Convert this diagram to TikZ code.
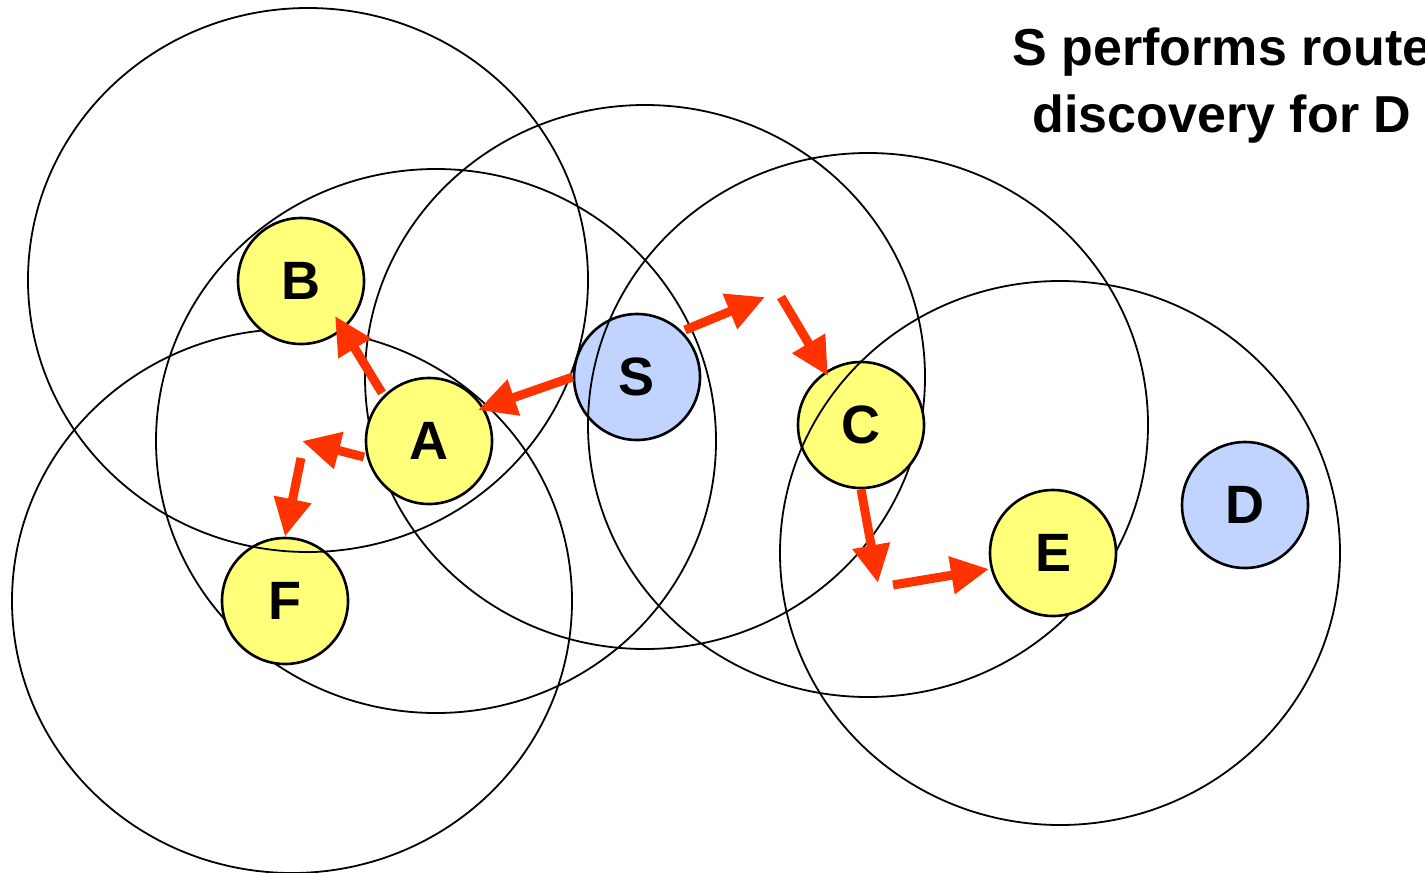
\documentclass[tikz,border=0pt]{standalone}
\usepackage{fontspec}
\setmainfont{Liberation Sans}
\usetikzlibrary{arrows.meta,calc}
\definecolor{nodeyellow}{RGB}{255,255,122}
\definecolor{nodeblue}{RGB}{193,212,255}
\definecolor{arrowred}{RGB}{255,51,0}
\tikzset{
  radiorange/.style={draw=black,line width=1.8pt},
  hostY/.style={circle,draw=black,line width=2.6pt,fill=nodeyellow,minimum size=126pt,inner sep=0pt,font=\fontsize{54}{54}\selectfont\bfseries},
  hostB/.style={hostY,fill=nodeblue},
  rreq/.style={draw=arrowred,line width=9pt,-{Triangle[length=38pt,width=36pt]},arrowred}
}
\begin{document}
\begin{tikzpicture}[x=1pt,y=-1pt]
\useasboundingbox (0,0) rectangle (1425,873);
% range of A
\draw[radiorange] (436,441) ellipse [x radius=280,y radius=272];
\node[hostY] (F) at (285,601) {F};
\node[hostB] (S) at (637,377) {S};
% ranges of B, F, S, C
\draw[radiorange] (308,280) ellipse [x radius=280,y radius=272];
\draw[radiorange] (292,601) ellipse [x radius=280,y radius=272];
\draw[radiorange] (645,377) ellipse [x radius=280,y radius=272];
\draw[radiorange] (868,425) ellipse [x radius=280,y radius=272];
\node[hostY] (C) at (861,425) {C};
% range of E
\draw[radiorange] (1060,553) ellipse [x radius=280,y radius=272];
\node[hostY] (A) at (429,441) {A};
\node[hostY] (B) at (301,281) {B};
\node[hostY] (E) at (1053,553) {E};
\node[hostB] (D) at (1245,505) {D};
% free ends
\coordinate (p1) at ($(A)+(-127,0)$);
\coordinate (p2) at ($(F)+(16,-143)$);
\coordinate (p3) at ($(S)+(128,-80)$);
\coordinate (p4) at ($(C)+(-80,-128)$);
\coordinate (p5) at ($(C)+(17,158)$);
\coordinate (p6) at ($(E)+(-160,32)$);
% route request flooding
\draw[rreq] (S.west) -- ($(A)+(49,-31)$);
\draw[rreq] ($(A)+(-47,-48)$) -- ($(B)+(34,35)$);
\draw[rreq] ($(A)+(-65,16)$) -- (p1);
\draw[rreq] (p2) -- (F.north);
\draw[rreq] ($(S)+(48,-47)$) -- (p3);
\draw[rreq] (p4) -- ($(C)+(-33,-49)$);
\draw[rreq] (C.south) -- (p5);
\draw[rreq] (p6) -- ($(E)+(-64,16)$);
% caption
\node[anchor=north,align=center,inner sep=0pt,font=\fontsize{52}{67}\selectfont\bfseries] (title) at (1222,28) {S performs route\\discovery for D};
\end{tikzpicture}
\end{document}
